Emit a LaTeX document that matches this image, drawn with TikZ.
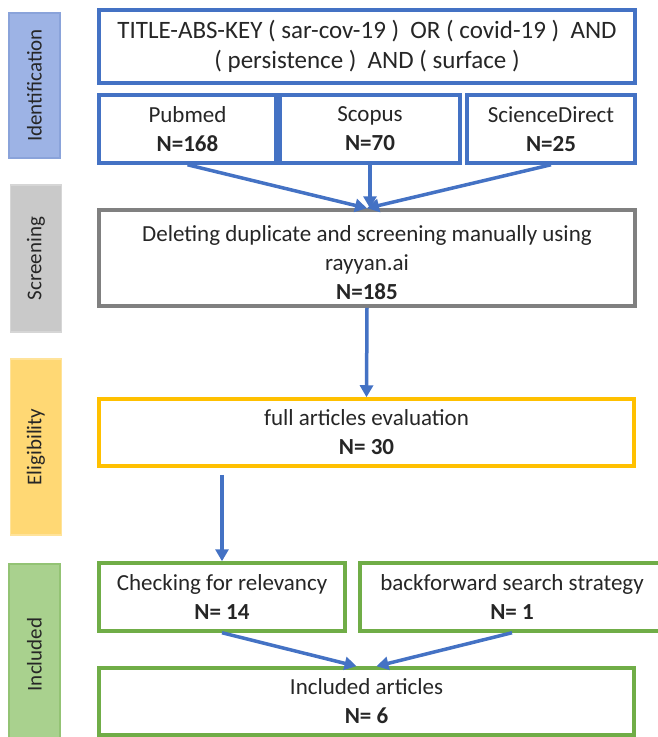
\documentclass[tikz,border=0pt]{standalone}
\usepackage{fontspec}
\setmainfont{Carlito}
\usepackage{xcolor}
\usetikzlibrary{positioning}
\usetikzlibrary{arrows.meta}
\usetikzlibrary{calc}

\definecolor{offblue}{HTML}{4472C4}
\definecolor{offgray}{HTML}{808080}
\definecolor{offyellow}{HTML}{FFC000}
\definecolor{offgreen}{HTML}{70AD47}
\definecolor{textgray}{HTML}{262626}
\definecolor{idfill}{HTML}{9DB3E5}
\definecolor{idline}{HTML}{8AA3DA}
\definecolor{scfill}{HTML}{C9C9C9}
\definecolor{scline}{HTML}{D6D6D6}
\definecolor{elfill}{HTML}{FFD874}
\definecolor{elline}{HTML}{FFE39A}
\definecolor{infill}{HTML}{A9D18E}
\definecolor{inline}{HTML}{93C374}

\tikzset{
  box/.style={draw, line width=3.5pt, fill=white, align=center, inner sep=0pt,
    text=textgray, font=\fontsize{23}{29}\selectfont},
  stagebar/.style={rotate=90, minimum height=51pt, line width=1.5pt, inner sep=0pt,
    text=textgray, font=\fontsize{21}{25}\selectfont},
  flow/.style={draw=offblue, line width=3.5pt, -{Triangle[length=12pt,width=13pt]}},
}

\begin{document}
\begin{tikzpicture}[x=1pt, y=-1pt]

  \useasboundingbox (0,0) rectangle (657,737);

  % stages on the left
  \node[stagebar, fill=idfill, draw=idline, minimum width=145pt] (ident) at (34.5,85.5) {Identification};
  \node[stagebar, fill=scfill, draw=scline, minimum width=147pt] (screenbar) at (36,258.5) {Screening};
  \node[stagebar, fill=elfill, draw=elline, minimum width=176pt] (eligbar) at (36,447) {Eligibility};
  \node[stagebar, fill=infill, draw=inline, minimum width=181pt] (inclbar) at (34.5,654.5) {Included};

  % identification
  \node[box, draw=offblue, minimum width=536pt, minimum height=73pt,
    font=\fontsize{25}{30}\selectfont] (query) at (367,46.5)
    {TITLE-ABS-KEY ( sar-cov-19 )~ OR ( covid-19 )~ AND\\( persistence )~ AND ( surface )};
  \node[box, draw=offblue, minimum width=177pt, minimum height=68pt] (pubmed) at (187.5,129)
    {Pubmed\\\textbf{N=168}};
  \node[box, draw=offblue, minimum width=180pt, minimum height=68pt] (scopus) at (370,129)
    {Scopus\\\textbf{N=70}};
  \node[box, draw=offblue, minimum width=168pt, minimum height=68pt] (sdirect) at (551,129)
    {ScienceDirect\\\textbf{N=25}};

  % screening
  \node[box, draw=offgray, minimum width=536pt, minimum height=96pt] (screen) at (367,258)
    {\\[-3pt]Deleting duplicate and screening manually using\\rayyan.ai\\\textbf{N=185}};

  % eligibility
  \node[box, draw=offyellow, minimum width=535pt, minimum height=67pt] (elig) at (366.5,432.5)
    {full articles evaluation\\\textbf{N= 30}};

  % included
  \node[box, draw=offgreen, minimum width=246pt, minimum height=68pt] (relev) at (222,597)
    {Checking for relevancy\\\textbf{N= 14}};
  \node[box, draw=offgreen, minimum width=304pt, minimum height=68pt] (backfw) at (512,597)
    {backforward search strategy\\\textbf{N= 1}};
  \node[box, draw=offgreen, minimum width=535pt, minimum height=67pt] (incl) at (366.5,701.5)
    {Included articles\\\textbf{N= 6}};

  % arrow ends
  \coordinate (eligout) at ($(elig.south -| relev.north)+(0,7)$);
  \coordinate (inclleft) at ($(incl.north)+(-10,0)$);
  \coordinate (inclright) at ($(incl.north)+(10,0)$);

  % arrows
  \draw[flow] (pubmed.south) -- (screen.north);
  \draw[flow] (scopus.south) -- (scopus.south |- screen.north);
  \draw[flow] (sdirect.south) -- (screen.north);
  \draw[flow] (screen.south) -- (elig.north);
  \draw[flow] (eligout) -- (relev.north);
  \draw[flow] (relev.south) -- (inclleft);
  \draw[flow] (backfw.south) -- (inclright);

\end{tikzpicture}
\end{document}
